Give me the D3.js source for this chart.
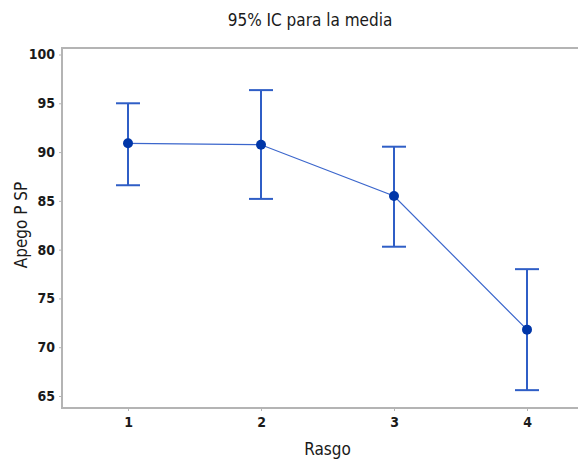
<!DOCTYPE html>
<html>
<head>
<meta charset="utf-8">
<script src="https://cdn.jsdelivr.net/npm/d3@7"></script>
<style>
  html, body { margin: 0; padding: 0; background: #fff; }
  svg { display: block; }
  text { font-family: "Liberation Sans Narrow", "DejaVu Sans Condensed", Arial, sans-serif; fill: #1a1a1a; }
</style>
</head>
<body>
<svg id="chart" width="578" height="459"></svg>
<script>
// Data
const categories = [1, 2, 3, 4];
const means = [90.9, 90.75, 85.5, 71.8];
const upper = [95.0, 96.35, 90.55, 78.0];
const lower = [86.6, 85.2, 80.3, 65.6];
const yTicks = [65, 70, 75, 80, 85, 90, 95, 100];
const title = "95% IC para la media";
const xLabel = "Rasgo";
const yLabel = "Apego P SP";

const W = 578, H = 459;
const frame = { left: 62, right: 586, top: 48, bottom: 408 };

const svg = d3.select("#chart");

const x = d3.scaleLinear().domain([1, 4]).range([128, 527]);
const y = d3.scaleLinear().domain([65, 100]).range([396, 54.5]);

// frame
svg.append("rect")
  .attr("x", frame.left).attr("y", frame.top)
  .attr("width", frame.right - frame.left).attr("height", frame.bottom - frame.top)
  .attr("fill", "none").attr("stroke", "#b4b4b4").attr("stroke-width", 2);

// y axis
const yAxis = d3.axisLeft(y).tickValues(yTicks).tickSize(3).tickPadding(4);
const gy = svg.append("g").attr("transform", `translate(${frame.left},0)`).call(yAxis);
gy.select(".domain").remove();
gy.selectAll(".tick line").attr("stroke", "#b4b4b4").attr("stroke-width", 1);
gy.selectAll(".tick text").style("font-size", "14px").attr("fill", "#1a1a1a").attr("font-weight", "bold")
  .style("font-family", '"Liberation Sans Narrow", "DejaVu Sans Condensed", sans-serif');

// x axis
const xAxis = d3.axisBottom(x).tickValues(categories).tickSize(3).tickPadding(6).tickFormat(d3.format("d"));
const gx = svg.append("g").attr("transform", `translate(0,${frame.bottom})`).call(xAxis);
gx.select(".domain").remove();
gx.selectAll(".tick line").attr("stroke", "#b4b4b4").attr("stroke-width", 1);
gx.selectAll(".tick text").style("font-size", "14px").attr("fill", "#1a1a1a").attr("font-weight", "bold")
  .style("font-family", '"Liberation Sans Narrow", "DejaVu Sans Condensed", sans-serif');

// connecting line
const line = d3.line().x((d, i) => x(categories[i])).y(d => y(d));
svg.append("path").datum(means).attr("d", line)
  .attr("fill", "none").attr("stroke", "#3b66cc").attr("stroke-width", 1.2);

// error bars
const capW = 12;
const eb = svg.append("g").attr("stroke", "#2f5ec6").attr("stroke-width", 2).attr("fill", "none");
categories.forEach((c, i) => {
  eb.append("line").attr("x1", x(c)).attr("x2", x(c)).attr("y1", y(upper[i])).attr("y2", y(lower[i]));
  eb.append("line").attr("x1", x(c) - capW).attr("x2", x(c) + capW).attr("y1", y(upper[i])).attr("y2", y(upper[i]));
  eb.append("line").attr("x1", x(c) - capW).attr("x2", x(c) + capW).attr("y1", y(lower[i])).attr("y2", y(lower[i]));
});

// markers
svg.append("g").selectAll("circle").data(means).join("circle")
  .attr("cx", (d, i) => x(categories[i])).attr("cy", d => y(d)).attr("r", 5)
  .attr("fill", "#0036a8");

// title
svg.append("text").attr("x", 310).attr("y", 26).attr("text-anchor", "middle")
  .style("font-size", "17px").text(title);

// x label
svg.append("text").attr("x", 327.5).attr("y", 455).attr("text-anchor", "middle")
  .style("font-size", "17px").text(xLabel);

// y label
svg.append("text").attr("transform", "translate(27,225) rotate(-90)").attr("text-anchor", "middle")
  .style("font-size", "17px").text(yLabel);
</script>
</body>
</html>
